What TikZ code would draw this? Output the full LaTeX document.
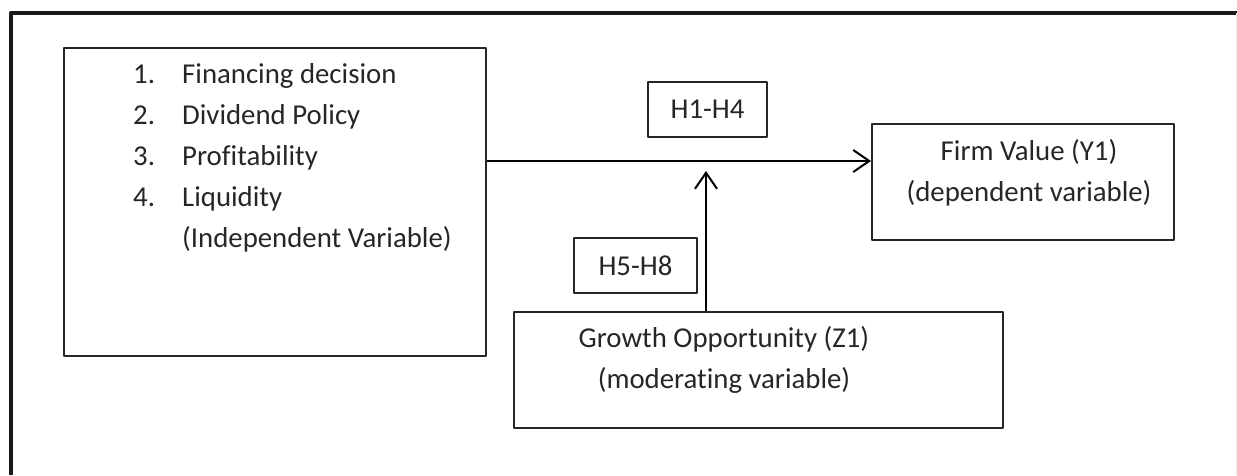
\documentclass[tikz,border=0pt]{standalone}
\usepackage{fontspec}
\setmainfont{Carlito}[Ligatures=NoCommon]
\usetikzlibrary{arrows.meta, calc}

\begin{document}
\begin{tikzpicture}[x=1pt, y=-1pt, line join=round,
    box/.style={draw=black!85, line width=2pt, inner sep=0pt, anchor=north west},
    txt/.style={inner sep=0pt, text=black!85, font=\fontsize{28.8}{41}\selectfont},
    arr/.style={draw=black, line width=2pt, -{Straight Barb[length=16pt, width=22pt, line width=2pt]}}]
    \useasboundingbox (0,0) rectangle (1237,475);

    % 1. outer frame
    \draw[line width=4.5pt, black!90] (11,475) -- (11,13) -- (1237,13);
    \draw[line width=1pt, black!8] (1236,13) -- (1236,475);

    % 2. variable boxes
    \node[box, minimum width=422, minimum height=308] (indep) at (63,47) {};
    \node[box, minimum width=302, minimum height=116] (firm) at (871,123) {};
    \node[box, minimum width=489, minimum height=116] (growth) at (513,311) {};

    % 3. hypothesis boxes
    \node[box, txt, minimum width=119, minimum height=55] (hone) at (647,81) {H1-H4};
    \node[box, txt, minimum width=123, minimum height=55] (hfive) at (573,237) {H5-H8};

    % 4. texts inside the boxes
    \node[txt, anchor=base west] (indeptxt) at (133,83) {%
        \begin{tabular}[t]{@{}p{49pt}@{}l@{}}
        1. & Financing decision\\
        2. & Dividend Policy\\
        3. & Profitability\\
        4. & Liquidity\\
           & (Independent Variable)
        \end{tabular}};
    \node[txt, anchor=base] (firmtxt) at (1029,160) {%
        \begin{tabular}[t]{@{}c@{}}Firm Value (Y1)\\(dependent variable)\end{tabular}};
    \node[txt, anchor=base] (growthtxt) at (724,347) {%
        \begin{tabular}[t]{@{}c@{}}Growth Opportunity (Z1)\\(moderating variable)\end{tabular}};

    % 5. arrows
    \coordinate (hline) at (0,161); % height of the main arrow
    \coordinate (tip) at (706,171); % end of the moderating arrow
    \draw[arr] (indep.east |- hline) -- (firm.west |- hline);
    \draw[arr] (growth.north -| tip) -- (tip);
\end{tikzpicture}
\end{document}
